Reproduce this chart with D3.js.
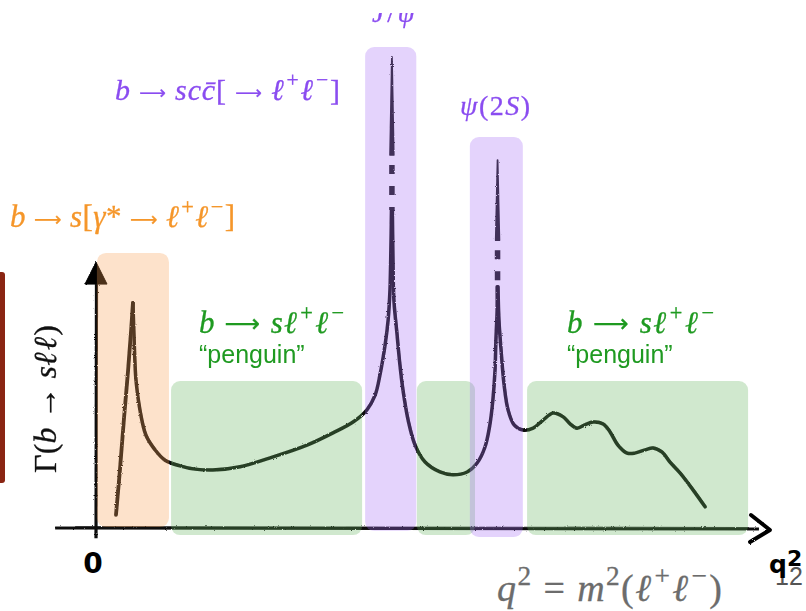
<!DOCTYPE html>
<html><head><meta charset="utf-8">
<script src="https://cdn.jsdelivr.net/npm/d3@7"></script>
<style>
html,body{margin:0;padding:0;background:#fff;}
svg{display:block;}
</style></head>
<body>
<svg id="chart" width="806" height="611"></svg>
<script>
// Axis extents (arbitrary units): dilepton mass squared and decay rate
const q2Extent = [0, 22];
const gammaExtent = [0, 10];

// Spectrum branches as [q², Γ] pairs
const photonRise = [[0.66,0.28],[0.79,1.23],[0.92,2.29],[1.06,3.35],[1.16,4.20],[1.22,4.78]];
const photonTail = [[1.22,4.78],[1.26,3.99],[1.32,3.14],[1.45,2.51],[1.65,1.97],[1.95,1.66],[2.28,1.44],
  [2.77,1.32],[3.27,1.25],[3.86,1.23],[4.76,1.30],[5.85,1.51],[6.97,1.76],[7.83,2.02],[8.49,2.25],
  [8.95,2.51],[9.22,2.82],[9.38,3.25],[9.55,3.89],[9.65,4.42],[9.71,5.05],[9.74,5.90],[9.76,6.75]];
const jpsiTail = [[9.79,6.75],[9.81,5.69],[9.84,4.84],[9.94,4.14],[10.04,3.46],[10.14,2.93],[10.31,2.29],
  [10.54,1.76],[10.87,1.40],[11.36,1.19],[11.79,1.13],[12.26,1.19],[12.59,1.38],[12.85,1.72],[13.01,2.19],
  [13.11,2.72],[13.18,3.35],[13.21,3.99],[13.25,4.63],[13.25,5.12]];
const psi2sTail = [[13.28,5.12],[13.31,4.42],[13.38,3.78],[13.48,3.04],[13.61,2.51],[13.81,2.19],[14.10,2.08],
  [14.44,2.12],[14.77,2.29],[15.10,2.44],[15.43,2.36],[15.66,2.21],[15.89,2.12],[16.15,2.19],[16.42,2.25],
  [16.75,2.21],[16.98,2.04],[17.24,1.76],[17.54,1.59],[17.80,1.59],[18.14,1.66],[18.40,1.70],[18.70,1.61],
  [18.96,1.40],[19.29,1.17],[19.72,0.81],[20.12,0.45]];

// Narrow charmonium resonances
const resonanceNames = ["J/ψ", "ψ(2S)"];
const resonanceQ2 = [9.775, 13.265];
const resonancePeak = [10.0, 7.81];
const resonanceDashTop = [7.92, 6.11];
const resonanceDashBottom = [6.75, 5.12];

// Shaded q² regions
const regionKind = ["photon", "penguin", "charm", "penguin", "charm", "penguin"];
const regionStart = [0.03, 2.48, 8.89, 10.60, 12.35, 14.24];
const regionEnd = [2.41, 8.79, 10.58, 12.52, 14.10, 21.54];
const regionTop = [5.84, 3.12, 10.21, 3.12, 8.30, 3.12];
const regionBottom = [0.02, -0.15, -0.06, -0.15, -0.19, -0.15];

// Axis line extents
const xAxisSpan = [-1.35, 21.9];
const yAxisSpan = [-0.22, 5.2];

const svg = d3.select("#chart");
const x = d3.scaleLinear().domain(q2Extent).range([96, 762]);
const y = d3.scaleLinear().domain(gammaExtent).range([528, 57]);

const regionFill = {photon: "rgb(248,160,82)", penguin: "rgb(100,178,92)", charm: "rgb(165,110,246)"};
const textColor = {photon: "#f5962a", charm: "#8a4cf0", penguin: "#1f9a21"};

// pencil-like roughness
const defs = svg.append("defs");
const f = defs.append("filter").attr("id", "rough")
  .attr("filterUnits", "userSpaceOnUse").attr("x", 0).attr("y", 0).attr("width", 806).attr("height", 611);
f.append("feTurbulence").attr("type", "fractalNoise").attr("baseFrequency", 0.9).attr("numOctaves", 2).attr("seed", 4).attr("result", "n");
f.append("feDisplacementMap").attr("in", "SourceGraphic").attr("in2", "n").attr("scale", 2.2);
defs.append("clipPath").attr("id", "topEdge")
  .append("rect").attr("x", 0).attr("y", 13).attr("width", 806).attr("height", 600);

// side bar
svg.append("rect").attr("x", -4).attr("y", 272).attr("width", 9).attr("height", 211).attr("rx", 3).attr("fill", "#8a2513");

const ink = svg.append("g").attr("filter", "url(#rough)");

// x axis (under the shading)
ink.append("line")
  .attr("x1", x(xAxisSpan[0])).attr("x2", x(xAxisSpan[1]))
  .attr("y1", y(0)).attr("y2", y(0) + 1)
  .attr("stroke", "#111").attr("stroke-width", 3);
ink.append("line")
  .attr("x1", x(xAxisSpan[0]) + 20).attr("x2", x(xAxisSpan[1]) - 10)
  .attr("y1", y(0) - 1.5).attr("y2", y(0) - 0.5)
  .attr("stroke", "#111").attr("stroke-width", 1.2).attr("opacity", 0.7);

// spectrum
const line = d3.line().x(d => x(d[0])).y(d => y(d[1])).curve(d3.curveCatmullRom.alpha(0.5));
[photonRise, photonTail, jpsiTail, psi2sTail].forEach((seg, i) => {
  ink.append("path").attr("d", line(seg)).attr("fill", "none")
    .attr("stroke", "#0e0e0e").attr("stroke-width", i === 0 ? 3.8 : 3.5)
    .attr("stroke-linecap", "round").attr("stroke-linejoin", "round");
  ink.append("path").attr("d", line(seg)).attr("fill", "none")
    .attr("transform", "translate(0.9,-0.9)")
    .attr("stroke", "#121212").attr("stroke-width", 1).attr("opacity", 0.6);
});

// resonance spikes: solid tip and dashed middle
resonanceNames.forEach((name, i) => {
  const xq = x(resonanceQ2[i]);
  ink.append("path")
    .attr("d", `M${xq - 1.8},${y(resonanceDashTop[i])} L${xq},${y(resonancePeak[i])} L${xq + 1.8},${y(resonanceDashTop[i])} Z`)
    .attr("fill", "#151515").attr("stroke", "#151515").attr("stroke-width", 1.8).attr("stroke-linejoin", "round");
  ink.append("line")
    .attr("x1", xq).attr("x2", xq)
    .attr("y1", y(resonanceDashTop[i])).attr("y2", y(resonanceDashBottom[i]))
    .attr("stroke", "#151515").attr("stroke-width", 5.5)
    .attr("stroke-dasharray", "9 12").attr("stroke-dashoffset", -10);
});

// shaded regions laid over the ink
svg.append("g").selectAll("rect").data(regionKind).join("rect")
  .attr("x", (d, i) => x(regionStart[i]))
  .attr("width", (d, i) => x(regionEnd[i]) - x(regionStart[i]))
  .attr("y", (d, i) => y(regionTop[i]))
  .attr("height", (d, i) => y(regionBottom[i]) - y(regionTop[i]))
  .attr("rx", 9)
  .attr("fill", d => regionFill[d]).attr("fill-opacity", 0.3);

// y axis with arrow head
ink.append("line")
  .attr("x1", x(0)).attr("x2", x(0) + 0.5)
  .attr("y1", y(yAxisSpan[0])).attr("y2", y(yAxisSpan[1]))
  .attr("stroke", "#111").attr("stroke-width", 3.2);
ink.append("path")
  .attr("d", `M${x(0)},${y(yAxisSpan[1]) - 21} L${x(0) + 11},${y(yAxisSpan[1]) + 1} L${x(0) - 11},${y(yAxisSpan[1]) + 1} Z`)
  .attr("fill", "#000").attr("stroke", "#000").attr("stroke-width", 1).attr("stroke-linejoin", "round");

// x axis arrow head
const xEnd = x(xAxisSpan[1]);
ink.append("path")
  .attr("d", `M${xEnd - 8},${y(0) - 13} L${xEnd + 11},${y(0) + 2} L${xEnd - 9},${y(0) + 14}`)
  .attr("fill", "none").attr("stroke", "#000").attr("stroke-width", 4)
  .attr("stroke-linejoin", "round").attr("stroke-linecap", "round");

// math-style text helper: parts are [string, kind, extra dx, arrow scale]
const SERIF = "'Liberation Serif','Times New Roman',serif";
function mathText(g, parts, size, color, width) {
  const t = g.append("text").attr("font-family", SERIF).attr("font-size", size).attr("fill", color)
    .attr("stroke", color).attr("stroke-width", 0.3);
  let cur = 0;
  parts.forEach(([s, k, dx, scale]) => {
    const sp = t.append("tspan").text(s);
    if (dx) sp.attr("dx", dx);
    let shift = 0;
    if (k === "i") sp.attr("font-style", "italic");
    if (k === "sup") { sp.attr("font-size", size * 0.72); shift = -size * 0.42; }
    if (k === "arr") { sp.attr("font-family", "'DejaVu Sans'").attr("font-size", size * scale); shift = -size * 0.03; }
    if (shift !== cur) { sp.attr("dy", shift - cur); cur = shift; }
  });
  if (width) t.attr("textLength", width).attr("lengthAdjust", "spacing");
  return t;
}
const longArrow = s => [[" ", "r"], ["⟶", "arr", 0, s], [" ", "r"]];
const leptons = [["ℓ", "i"], ["+", "sup", 2], ["ℓ", "i", 1], ["−", "sup", 2]];

mathText(svg, [["b", "i"], ...longArrow(0.62), ["s", "i"], ["[", "r"], ["γ", "i"], ["*", "r"], ...longArrow(0.62), ...leptons, ["]", "r", 1]], 31, textColor.photon, 225)
  .attr("x", 10).attr("y", 227);
mathText(svg, [["b", "i"], ...longArrow(0.62), ["s", "i"], ["c", "i"], ["c\u0304", "i"], ["[", "r"], ...longArrow(0.62), ...leptons, ["]", "r", 1]], 30, textColor.charm, 225)
  .attr("x", 115).attr("y", 100);

// resonance names above their bands
const nameParts = [[["J", "i"], ["/", "r"], ["ψ", "i"]], [["ψ", "i"], ["(2", "r"], ["S", "i"], [")", "r"]]];
const namePos = [[372, 22, 28, 43], [460, 115, 28, 70]];
resonanceNames.forEach((n, i) => {
  const t = mathText(svg, nameParts[i], namePos[i][2], textColor.charm, namePos[i][3])
    .attr("x", namePos[i][0]).attr("y", namePos[i][1]);
  if (i === 0) t.attr("clip-path", "url(#topEdge)");
});

// penguin labels
[[199, 145], [567, 147]].forEach(([px, w]) => {
  mathText(svg, [["b", "i"], ...longArrow(0.8), ["s", "i"], ...leptons], 31, textColor.penguin, w).attr("x", px).attr("y", 333);
  svg.append("text").attr("x", px).attr("y", 363)
    .attr("font-family", "'Liberation Sans',Arial,sans-serif").attr("font-size", 25)
    .attr("fill", textColor.penguin).text("“penguin”");
});

// axis titles
mathText(svg, [["Γ(", "r"], ["b", "i"], [" → ", "r"], ["s", "i"], ["ℓ", "i"], ["ℓ", "i", 2], [")", "r", 1]], 32, "#111", 148)
  .attr("text-anchor", "middle").attr("transform", "translate(56,399) rotate(-90)");
mathText(svg, [["q", "i"], ["2", "sup"], [" = ", "r"], ["m", "i"], ["2", "sup"], ["(", "r"], ...leptons, [")", "r", 1]], 38, "#6c6c6c", 225)
  .attr("x", 497).attr("y", 601);

svg.append("text").attr("x", x(0) - 3).attr("y", 573).attr("text-anchor", "middle")
  .attr("font-family", "'DejaVu Sans',sans-serif").attr("font-size", 28).attr("font-weight", 600)
  .attr("fill", "#000").text("0");
svg.append("text").attr("x", 775).attr("y", 585)
  .attr("font-family", "'Liberation Sans',Arial,sans-serif").attr("font-size", 25).attr("fill", "#555").text("12");
const q2lbl = svg.append("text").attr("x", 769).attr("y", 573)
  .attr("font-family", "'DejaVu Sans',sans-serif").attr("font-size", 25).attr("font-weight", "bold").attr("fill", "#000");
q2lbl.append("tspan").text("q");
q2lbl.append("tspan").attr("dy", -7).attr("font-size", 22).text("2");
</script>
</body></html>
